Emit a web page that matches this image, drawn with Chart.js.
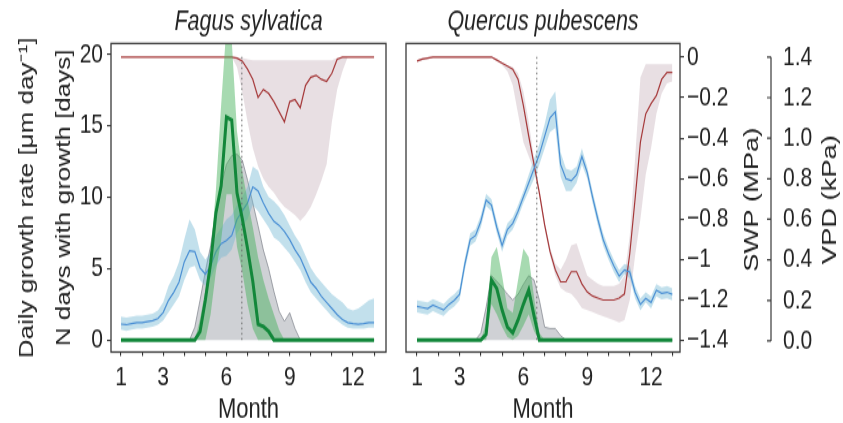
<!DOCTYPE html>
<html>
<head>
<meta charset="utf-8">
<script src="https://cdn.jsdelivr.net/npm/chart.js@4.4.1/dist/chart.umd.min.js"></script>
<style>
  html, body { margin: 0; padding: 0; background: #fff; }
  #wrap { position: relative; width: 843px; height: 423px; overflow: hidden; }
  .panel { position: absolute; top: 0; transform-origin: 0 0; transform: scaleY(1.3015); }
</style>
</head>
<body>
<div id="wrap">
  <div class="panel" style="left:0;width:400px;height:325px"><canvas id="fagus" width="400" height="325"></canvas></div>
  <div class="panel" style="left:400px;width:443px;height:325px"><canvas id="quercus" width="443" height="325"></canvas></div>
</div>
<script>
// month grid (weekly steps)
const months = [1,1.25,1.5,1.75,2,2.25,2.5,2.75,3,3.25,3.5,3.75,4,4.25,4.5,4.75,5,5.25,5.5,5.75,
  6,6.25,6.5,6.75,7,7.25,7.5,7.75,8,8.25,8.5,8.75,9,9.25,9.5,9.75,10,10.25,10.5,10.75,
  11,11.25,11.5,11.75,12,12.25,12.5,12.75,13];

// tick labels
const monthTicks = [1,2,3,4,5,6,7,8,9,10,11,12,13];
const monthLabels = [1,3,6,9,12];
const growthTicks = [0,5,10,15,20];
const swpTicks = [0,-0.2,-0.4,-0.6,-0.8,-1,-1.2,-1.4];
const vpdTicks = [0,0.2,0.4,0.6,0.8,1.0,1.2,1.4];
const markerMonth = [6.73, 6.63];   // dotted lines (Fagus, Quercus)

// ---- Fagus sylvatica ----
const fagusGrowth = [0,0,0,0,0,0,0,0,0,0,0,0,0,0,0,0.6,2.8,5.4,8.9,10.8,
  15.6,15.4,10.3,8.5,6.4,4.1,1.1,0.95,0.6,0,0,0,0,0,0,0,0,0,0,0,
  0,0,0,0,0,0,0,0,0];
const fagusGrowthHi = [0,0,0,0,0,0,0,0,0,0,0,0,0,0,0,1.5,3.5,6.0,10.5,16.5,
  22,21,14.6,11.8,9.8,7.9,5.8,4.2,2.9,1.8,0.7,0,0,0,0,0,0,0,0,0,
  0,0,0,0,0,0,0,0,0];
const fagusGrowthLo = [0,0,0,0,0,0,0,0,0,0,0,0,0,0,0,0,0,1.8,4.8,7.0,
  10.2,10.2,6.5,4.8,2.5,0.8,0,0,0,0,0,0,0,0,0,0,0,0,0,0,
  0,0,0,0,0,0,0,0,0];
const fagusDays = [0,0,0,0,0,0,0,0,0,0,0,0,0,0,0.9,2.8,4.8,6.6,9.0,10.8,
  12.3,12.9,13.0,12.6,11.2,9.6,8.0,6.3,5.0,3.4,2.0,1.3,1.9,0.8,0,0,0,0,0,0,
  0,0,0,0,0,0,0,0,0];
const fagusVpd = [0.083,0.08,0.085,0.09,0.09,0.095,0.10,0.11,0.14,0.20,0.24,0.29,0.39,0.445,0.44,0.36,0.33,0.37,0.44,0.48,
  0.495,0.52,0.60,0.64,0.68,0.76,0.74,0.68,0.63,0.59,0.57,0.54,0.50,0.45,0.41,0.35,0.29,0.26,0.22,0.19,
  0.16,0.13,0.105,0.09,0.085,0.082,0.085,0.09,0.09];
const fagusVpdHi = [0.12,0.115,0.12,0.125,0.125,0.13,0.135,0.15,0.19,0.27,0.32,0.39,0.50,0.60,0.55,0.44,0.40,0.44,0.52,0.56,
  0.60,0.62,0.67,0.71,0.76,0.86,0.84,0.76,0.71,0.69,0.66,0.62,0.57,0.52,0.48,0.42,0.36,0.32,0.29,0.26,
  0.23,0.21,0.19,0.16,0.15,0.16,0.18,0.20,0.21];
const fagusVpdLo = [0.055,0.05,0.055,0.06,0.06,0.065,0.07,0.08,0.10,0.14,0.18,0.22,0.30,0.36,0.37,0.30,0.27,0.31,0.37,0.41,
  0.42,0.45,0.53,0.57,0.60,0.67,0.64,0.60,0.56,0.51,0.49,0.46,0.43,0.39,0.35,0.29,0.24,0.21,0.18,0.15,
  0.12,0.10,0.08,0.065,0.06,0.06,0.06,0.065,0.065];
const fagusSwp = [0,0,0,0,0,0,0,0,0,0,0,0,0,0,0,0,0,0,0,0,
  0,0,-0.005,-0.02,-0.06,-0.11,-0.2,-0.16,-0.18,-0.22,-0.27,-0.32,-0.22,-0.21,-0.25,-0.14,-0.10,-0.09,-0.11,-0.12,
  -0.08,-0.01,0,0,0,0,0,0,0];
const fagusSwpHi = [0,0,0,0,0,0,0,0,0,0,0,0,0,0,0,0,0,0,0,0,
  0,0,0,-0.005,-0.01,-0.015,-0.015,-0.015,-0.015,-0.015,-0.015,-0.015,-0.015,-0.015,-0.015,-0.015,-0.015,-0.015,-0.015,-0.015,
  -0.015,-0.005,0,0,0,0,0,0,0];
const fagusSwpLo = [0,0,0,0,0,0,0,0,0,0,0,0,0,0,0,0,0,0,0,0,
  0,0,-0.05,-0.17,-0.32,-0.45,-0.54,-0.60,-0.64,-0.67,-0.71,-0.74,-0.76,-0.78,-0.81,-0.78,-0.74,-0.68,-0.61,-0.53,
  -0.32,-0.16,-0.07,0,0,0,0,0,0];

// ---- Quercus pubescens ----
const quercusGrowth = [0,0,0,0,0,0,0,0,0,0,0,0,0,0.4,4.2,3.6,2.1,0.9,0.5,1.4,
  2.5,3.5,1.7,0,0,0,0,0,0,0,0,0,0,0,0,0,0,0,0,0,
  0,0,0,0,0,0,0,0,0];
const quercusGrowthHi = [0,0,0,0,0,0,0,0,0,0,0,0,0,1.2,5.8,6.5,4.5,2.2,1.9,4.2,
  6.4,5.8,3.0,0.5,0,0,0,0,0,0,0,0,0,0,0,0,0,0,0,0,
  0,0,0,0,0,0,0,0,0];
const quercusGrowthLo = [0,0,0,0,0,0,0,0,0,0,0,0,0,0,2.5,1.8,0.9,0.2,0,0.3,
  1.0,1.8,0.6,0,0,0,0,0,0,0,0,0,0,0,0,0,0,0,0,0,
  0,0,0,0,0,0,0,0,0];
const quercusDays = [0,0,0,0,0,0,0,0,0,0,0,0,0.5,2.3,4.5,4.1,3.7,3.2,2.8,3.2,
  3.9,4.5,4.2,2.8,0.9,0.8,0.8,0.3,0,0,0,0,0,0,0,0,0,0,0,0,
  0,0,0,0,0,0,0,0,0];
const quercusVpd = [0.17,0.165,0.16,0.177,0.165,0.153,0.18,0.20,0.23,0.38,0.50,0.52,0.59,0.695,0.67,0.56,0.47,0.55,0.58,0.64,
  0.71,0.78,0.85,0.92,1.01,1.10,1.13,0.87,0.80,0.79,0.82,0.91,0.83,0.71,0.60,0.50,0.43,0.37,0.32,0.35,
  0.34,0.24,0.18,0.21,0.19,0.25,0.235,0.24,0.23];
const quercusVpdHi = [0.20,0.195,0.19,0.207,0.195,0.183,0.21,0.23,0.26,0.41,0.53,0.55,0.62,0.725,0.70,0.59,0.50,0.58,0.61,0.67,
  0.74,0.82,0.90,0.97,1.07,1.19,1.23,0.93,0.85,0.84,0.86,0.95,0.86,0.74,0.63,0.53,0.46,0.40,0.35,0.38,
  0.37,0.27,0.21,0.24,0.22,0.28,0.265,0.27,0.26];
const quercusVpdLo = [0.14,0.135,0.13,0.147,0.135,0.123,0.15,0.17,0.20,0.35,0.47,0.49,0.56,0.665,0.64,0.53,0.44,0.52,0.55,0.61,
  0.68,0.74,0.80,0.87,0.95,1.03,1.05,0.81,0.74,0.74,0.78,0.87,0.80,0.68,0.57,0.47,0.40,0.34,0.29,0.33,
  0.31,0.21,0.15,0.19,0.16,0.22,0.205,0.21,0.20];
const quercusSwp = [-0.02,-0.01,-0.005,0,0,0,0,0,0,0,0,0,0,0,0,-0.015,-0.03,-0.045,-0.06,-0.11,
  -0.24,-0.39,-0.53,-0.67,-0.83,-0.96,-1.05,-1.11,-1.11,-1.06,-1.06,-1.12,-1.16,-1.18,-1.19,-1.2,-1.2,-1.2,-1.19,-1.17,
  -0.97,-0.70,-0.42,-0.28,-0.23,-0.19,-0.11,-0.076,-0.076];
const quercusSwpHi = [-0.015,-0.005,0,0.005,0.005,0.005,0.005,0.005,0.005,0.005,0.005,0.005,0.005,0.005,0.005,-0.01,-0.025,-0.04,-0.05,-0.08,
  -0.17,-0.32,-0.50,-0.65,-0.81,-0.94,-1.02,-1.05,-1.0,-0.93,-0.92,-1.0,-1.08,-1.1,-1.12,-1.13,-1.13,-1.13,-1.12,-1.08,
  -0.88,-0.5,-0.1,-0.035,-0.035,-0.035,-0.035,-0.035,-0.035];
const quercusSwpLo = [-0.025,-0.015,-0.01,-0.005,-0.005,-0.005,-0.005,-0.005,-0.005,-0.005,-0.005,-0.005,-0.005,-0.005,-0.005,-0.02,-0.04,-0.07,-0.14,-0.28,
  -0.42,-0.49,-0.56,-0.69,-0.85,-0.98,-1.08,-1.14,-1.16,-1.17,-1.2,-1.24,-1.25,-1.26,-1.27,-1.28,-1.29,-1.30,-1.31,-1.30,
  -1.20,-0.98,-0.80,-0.58,-0.45,-0.28,-0.18,-0.13,-0.12];

Chart.defaults.font.family = "'Liberation Sans', Arial, sans-serif";
Chart.defaults.color = '#222';

function pts(arr) { return months.map((m, i) => ({ x: m, y: arr[i] })); }

function line(arr, axis, color, width, order) {
  return { data: pts(arr), yAxisID: axis, borderColor: color, borderWidth: width,
    pointRadius: 0, fill: false, tension: 0, order: order };
}
function band(hi, lo, axis, color, order) {
  return [
    { data: pts(hi), yAxisID: axis, borderWidth: 0, pointRadius: 0, backgroundColor: color,
      fill: '+1', tension: 0, order: order },
    { data: pts(lo), yAxisID: axis, borderWidth: 0, pointRadius: 0, fill: false, tension: 0, order: order }
  ];
}
function datasets(g, gHi, gLo, days, vpd, vpdHi, vpdLo, swp, swpHi, swpLo, mark) {
  return [
    line(g, 'gr', '#12873a', 3, 0),
    { data: [{ x: mark, y: 0 }, { x: mark, y: 20 }], yAxisID: 'gr', borderColor: '#666',
      borderWidth: 1, borderDash: [1.5, 2.5], pointRadius: 0, order: 1 },
    ...band(gHi, gLo, 'gr', 'rgba(72,178,92,0.48)', 2),
    line(vpd, 'vpd', '#4a8fd4', 1.2, 3),
    line(swp, 'swp', '#a53839', 1.2, 4),
    ...band(vpdHi, vpdLo, 'vpd', 'rgba(110,182,210,0.42)', 5),
    ...band(swpHi, swpLo, 'swp', 'rgba(150,108,128,0.22)', 6),
    { data: pts(days), yAxisID: 'gr', borderColor: 'rgba(120,124,134,0.85)', borderWidth: 0.8,
      backgroundColor: 'rgba(140,145,156,0.42)', pointRadius: 0, fill: 'origin', tension: 0, order: 7 }
  ];
}

const tickFont = { size: 21 };
function setTicks(list) { return s => { s.ticks = list.map(v => ({ value: v })); }; }

function xScale(min, max) {
  return {
    type: 'linear', min: min, max: max,
    afterBuildTicks: setTicks(monthTicks),
    afterFit: s => { s.height = 54.5; },
    ticks: { font: tickFont, padding: 4, autoSkip: false, maxRotation: 0,
      callback: v => monthLabels.includes(v) ? String(v) : '' },
    grid: { drawOnChartArea: false, tickLength: 3, color: '#333', lineWidth: 1.1 },
    border: { display: false },
    title: { display: true, text: 'Month', font: { size: 22, lineHeight: 0.9 }, padding: 0, color: '#222' }
  };
}
const hidden = (min, max) => ({ display: false, min: min, max: max });

// draws the panel box, side titles and the VPD axis line
const framePlugin = {
  id: 'frame',
  afterDraw(chart, args, opts) {
    const { ctx, chartArea: a } = chart;
    ctx.save();
    ctx.strokeStyle = '#3a3a3a';
    ctx.lineWidth = 1.3;
    ctx.strokeRect(a.left, a.top, a.right - a.left, a.bottom - a.top);
    if (opts.vpdAxis) {
      const s = chart.scales.vpd;
      const x = s.left + 3;
      ctx.lineWidth = 1.2;
      ctx.beginPath();
      ctx.moveTo(x, s.getPixelForValue(0));
      ctx.lineTo(x, s.getPixelForValue(1.4));
      vpdTicks.forEach(v => {
        const y = s.getPixelForValue(v);
        ctx.moveTo(x - 4, y); ctx.lineTo(x, y);
      });
      ctx.stroke();
    }
    (opts.sideTitles || []).forEach(t => {
      ctx.save();
      ctx.translate(t.x, (a.top + a.bottom) / 2 + 1.5);
      ctx.rotate(-Math.PI / 2);
      ctx.font = "21px 'Liberation Sans', Arial, sans-serif";
      ctx.fillStyle = '#222';
      ctx.textAlign = 'center';
      ctx.textBaseline = 'middle';
      ctx.fillText(t.text, 0, 0);
      ctx.restore();
    });
    ctx.restore();
  }
};

const common = {
  responsive: false, animation: false, events: [],
  plugins: { legend: { display: false }, tooltip: { enabled: false } }
};

new Chart(document.getElementById('fagus'), {
  type: 'line',
  data: { datasets: datasets(fagusGrowth, fagusGrowthHi, fagusGrowthLo, fagusDays,
    fagusVpd, fagusVpdHi, fagusVpdLo, fagusSwp, fagusSwpHi, fagusSwpLo, markerMonth[0]) },
  plugins: [framePlugin],
  options: {
    ...common,
    layout: { padding: { left: 0, right: 14, top: 0, bottom: 0 } },
    plugins: {
      ...common.plugins,
      title: { display: true, text: 'Fagus sylvatica', fullSize: false, color: '#222',
        font: { size: 21.5, style: 'italic', weight: 'normal' }, padding: { top: 4, bottom: 3.6 } },
      frame: {}
    },
    scales: {
      x: xScale(0.526, 13.565),
      gr: {
        position: 'left', min: -0.85, max: 20.76,
        afterBuildTicks: setTicks(growthTicks),
        afterFit: s => { s.width = 111; },
        ticks: { font: tickFont, padding: 4, callback: v => String(v) },
        grid: { drawOnChartArea: false, tickLength: 4, color: '#333', lineWidth: 1.1 },
        border: { display: false },
        title: { display: true, color: '#222',
          text: ['Daily growth rate [\u03bcm day\u207b\u00b9]', 'N days with growth [days]'],
          font: { size: 20, lineHeight: 1.85 }, padding: { top: 8.5, bottom: 0 } }
      },
      swp: hidden(-1.457, 0.067),
      vpd: hidden(-0.055, 1.467)
    }
  }
});

new Chart(document.getElementById('quercus'), {
  type: 'line',
  data: { datasets: datasets(quercusGrowth, quercusGrowthHi, quercusGrowthLo, quercusDays,
    quercusVpd, quercusVpdHi, quercusVpdLo, quercusSwp, quercusSwpHi, quercusSwpLo, markerMonth[1]) },
  plugins: [framePlugin],
  options: {
    ...common,
    layout: { padding: { left: 6, right: 0, top: 0, bottom: 0 } },
    plugins: {
      ...common.plugins,
      title: { display: true, text: 'Quercus pubescens', fullSize: false, color: '#222',
        font: { size: 21.5, style: 'italic', weight: 'normal' }, padding: { top: 4, bottom: 3.6 } },
      frame: { vpdAxis: true, sideTitles: [{ text: 'SWP (MPa)', x: 352 }, { text: 'VPD (kPa)', x: 430 }] }
    },
    scales: {
      x: xScale(0.483, 13.36),
      gr: hidden(-0.85, 20.76),
      swp: {
        position: 'right', weight: 0, min: -1.457, max: 0.067,
        afterBuildTicks: setTicks(swpTicks),
        afterFit: s => { s.width = 88; },
        ticks: { font: tickFont, padding: 3,
          callback: v => v === 0 ? '0' : '\u2212' + String(+Math.abs(v).toFixed(1)) },
        grid: { drawOnChartArea: false, tickLength: 4, color: '#333', lineWidth: 1.1 },
        border: { display: false }
      },
      vpd: {
        position: 'right', weight: 1, min: -0.055, max: 1.467,
        afterBuildTicks: setTicks(vpdTicks),
        afterFit: s => { s.width = 75; },
        ticks: { font: tickFont, padding: 7, callback: v => v.toFixed(1) },
        grid: { display: false },
        border: { display: false }
      }
    }
  }
});
</script>
</body>
</html>
